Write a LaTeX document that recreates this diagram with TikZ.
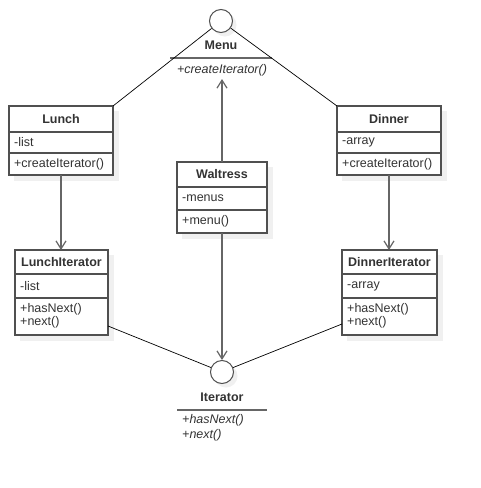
\documentclass[tikz,border=0pt]{standalone}
\usepackage{fontspec}
\setmainfont{Liberation Sans}
\usetikzlibrary{arrows.meta,calc}
\definecolor{txt}{HTML}{333333}
\definecolor{edge}{HTML}{505050}
\definecolor{arr}{HTML}{666666}
\definecolor{shadowgray}{HTML}{F0F0F0}
\tikzset{
 box/.style={draw=edge, line width=1.2pt, fill=white, rectangle, inner sep=0pt, outer sep=0pt, anchor=north west},
 title/.style={font=\fontsize{12.5}{14}\selectfont\bfseries, text=txt, inner sep=0pt},
 member/.style={font=\fontsize{12.5}{13}\selectfont, text=txt, anchor=west, inner sep=0pt, align=left},
 imember/.style={font=\fontsize{12.5}{15}\selectfont\itshape, text=txt, inner sep=0pt, align=left},
 sep/.style={draw=edge, line width=1.2pt},
 isep/.style={draw=arr, line width=2pt},
 dep/.style={draw=arr, line width=1.4pt, -{Straight Barb[length=8pt,width=10pt,line width=1.2pt]}},
 real/.style={draw=black, line width=0.7pt},
 iface/.style={circle, draw=edge, line width=1pt, fill=white, minimum size=23pt, inner sep=0pt},
 shadowfill/.style={fill=shadowgray, draw=none},
}
\begin{document}
\begin{tikzpicture}[x=1pt,y=-1pt]
\useasboundingbox[fill=white] (0,0) rectangle (480,488);
% shadows
\path[shadowfill] (14,111) rectangle (119,181);
\path[shadowfill] (20,255) rectangle (114,341);
\path[shadowfill] (182,167) rectangle (273,239);
\path[shadowfill] (342,111) rectangle (447,181);
\path[shadowfill] (347,255) rectangle (443,341);
\path[shadowfill] (225,25) circle (11.5);
\path[shadowfill] (226,376) circle (11.5);

% Menu interface
\node[iface] (menucirc) at (221,21) {};
\node[title] (menutitle) at (221,45) {Menu};
\draw[isep] (170,58) -- (272,58);
\node[imember, inner sep=3pt] (menuops) at (222,70) {+createIterator()};

% Iterator interface
\node[iface] (itercirc) at (222,372) {};
\node[title] (itertitle) at (222,397) {Iterator};
\draw[isep] (177,410) -- (267,410);
\node[imember, anchor=west] (iterops) at (182,427.5) {+hasNext()\\+next()};

% Lunch
\node[box, minimum width=104pt, minimum height=69pt] (lunch) at (9,106) {};
\draw[sep] (lunch.west |- 0,132) -- (lunch.east |- 0,132);
\draw[sep] (lunch.west |- 0,153) -- (lunch.east |- 0,153);
\node[title] (lunchtitle) at (61,119) {Lunch};
\node[member] (lunchattr) at (14,142.5) {-list};
\node[member] (lunchops) at (14,164) {+createIterator()};

% LunchIterator
\node[box, minimum width=93pt, minimum height=85pt] (lunchit) at (15,250) {};
\draw[sep] (lunchit.west |- 0,274) -- (lunchit.east |- 0,274);
\draw[sep] (lunchit.west |- 0,298) -- (lunchit.east |- 0,298);
\node[title] (lunchittitle) at (61.5,262.5) {LunchIterator};
\node[member] (lunchitattr) at (20,286) {-list};
\node[member] (lunchitops) at (20,315.5) {+hasNext()\\+next()};

% Waltress
\node[box, minimum width=90pt, minimum height=71pt] (waltress) at (177,162) {};
\draw[sep] (waltress.west |- 0,187) -- (waltress.east |- 0,187);
\draw[sep] (waltress.west |- 0,210) -- (waltress.east |- 0,210);
\node[title] (waltresstitle) at (222,174.5) {Waltress};
\node[member] (waltressattr) at (182,198) {-menus};
\node[member] (waltressops) at (182,221.5) {+menu()};

% Dinner
\node[box, minimum width=104pt, minimum height=69pt] (dinner) at (337,106) {};
\draw[sep] (dinner.west |- 0,132) -- (dinner.east |- 0,132);
\draw[sep] (dinner.west |- 0,153) -- (dinner.east |- 0,153);
\node[title] (dinnertitle) at (389,119) {Dinner};
\node[member] (dinnerattr) at (342,142.5) {-array};
\node[member] (dinnerops) at (342,164) {+createIterator()};

% DinnerIterator
\node[box, minimum width=95pt, minimum height=85pt] (dinnerit) at (342,250) {};
\draw[sep] (dinnerit.west |- 0,274) -- (dinnerit.east |- 0,274);
\draw[sep] (dinnerit.west |- 0,298) -- (dinnerit.east |- 0,298);
\node[title] (dinnerittitle) at (389.5,262.5) {DinnerIterator};
\node[member] (dinneritattr) at (347,286) {-array};
\node[member] (dinneritops) at (347,315.5) {+hasNext()\\+next()};

% connectors
\draw[dep] (lunch.south) -- (lunch.south |- lunchit.north);
\draw[dep] (dinner.south) -- (dinner.south |- dinnerit.north);
\draw[dep] (waltress.north) -- (waltress.north |- menuops.south);
\draw[dep] (waltress.south) -- (waltress.south |- itercirc.north);
\draw[real] (lunch.north east) -- (menucirc);
\draw[real] (dinner.north west) -- (menucirc);
\draw[real] ($(lunchit.south east)+(0,-9)$) -- (itercirc);
\draw[real] ($(dinnerit.south west)+(0,-11)$) -- (itercirc);
\end{tikzpicture}
\end{document}
